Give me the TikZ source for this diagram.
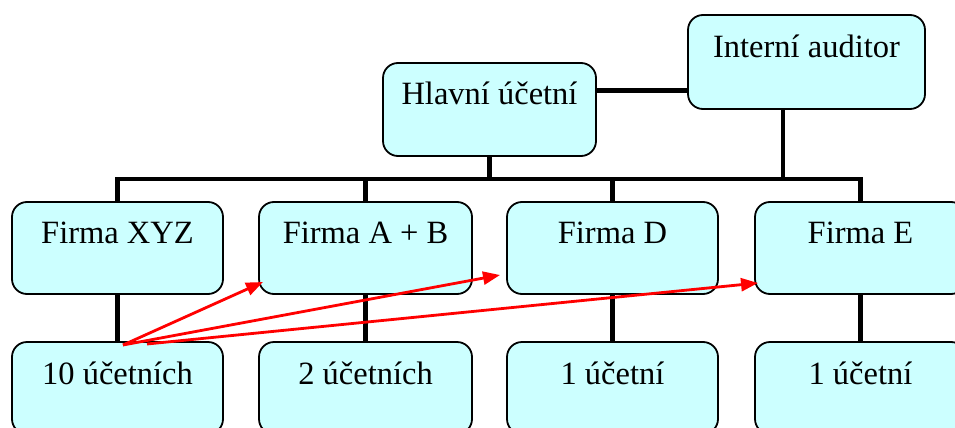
\documentclass[tikz,border=0pt]{standalone}
\usepackage{fontspec}
\setmainfont{Liberation Serif}
\usetikzlibrary{arrows.meta,calc}
\definecolor{boxfill}{HTML}{CCFFFF}
\begin{document}
\begin{tikzpicture}[x=1pt,y=1pt,
  orgbox/.style={draw=black,line width=1.8pt,fill=boxfill,rounded corners=15pt,inner sep=0pt,outer sep=0pt,
    text height=41pt,text depth=51pt,minimum width=211pt,anchor=north west,
    font=\fontsize{32.5}{36}\selectfont},
  lowbox/.style={orgbox,text height=42pt,text depth=50pt},
  link/.style={line width=4.6pt},
  redarrow/.style={draw=red,line width=2.8pt,-{Triangle[length=17pt,width=13pt]}}]
\useasboundingbox (0,0) rectangle (955,-428);
\clip (0,0) rectangle (955,-428);
% boxes
\node[orgbox,minimum width=213pt,text depth=52pt] (hl) at (383,-63) {Hlavní účetní};
\node[orgbox,minimum width=237pt,text height=43pt] (int) at (688,-15) {Interní auditor};
\node[orgbox] (xyz) at (12,-202) {Firma XYZ};
\node[orgbox,minimum width=213pt] (ab) at (259,-202) {Firma A + B};
\node[orgbox] (fd) at (507,-202) {Firma D};
\node[orgbox] (fe) at (755,-202) {Firma E};
\node[lowbox] (u10) at (12,-342) {10 účetních};
\node[lowbox,minimum width=213pt] (u2) at (259,-342) {2 účetních};
\node[lowbox] (u1d) at (507,-342) {1 účetní};
\node[lowbox] (u1e) at (755,-342) {1 účetní};
\coordinate (bus) at (0,-179);
% connectors
\draw[link] ([yshift=19pt]hl.east) -- ([yshift=19pt]hl.east -| int.west);
\draw[link] (hl.south) -- (hl.south |- bus);
\draw[link] (int.south -| 783,0) -- (783,0 |- bus);
\draw[link] (xyz.north) -- (xyz.north |- bus) -- (fe.north |- bus) -- (fe.north);
\draw[link] (ab.north |- bus) -- (ab.north);
\draw[link] (fd.north |- bus) -- (fd.north);
\draw[link] (xyz.south) -- (u10.north);
\draw[link] (ab.south) -- (u2.north);
\draw[link] (fd.south) -- (u1d.north);
\draw[link] (fe.south) -- (u1e.north);
% red arrows
\coordinate (s1) at ([shift={(5.5,-3)}]u10.north);
\coordinate (s2) at ([shift={(29.5,-2)}]u10.north);
\draw[redarrow] (s1) -- ([shift={(4,12)}]ab.south west);
\draw[redarrow] (s1) -- ([shift={(-7,19)}]fd.south west);
\draw[redarrow] (s2) -- ([shift={(3,11)}]fe.south west);
\end{tikzpicture}
\end{document}
